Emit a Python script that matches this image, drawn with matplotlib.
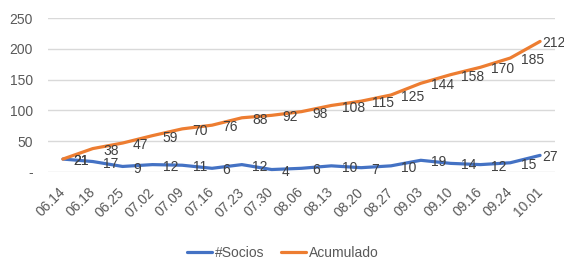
import matplotlib
matplotlib.use("Agg")
import matplotlib.pyplot as plt
import numpy as np

# Weekly dates, new members per week and running total
dates = ["06.14", "06.18", "06.25", "07.02", "07.09", "07.16", "07.23", "07.30",
         "08.06", "08.13", "08.20", "08.27", "09.03", "09.10", "09.16", "09.24", "10.01"]
socios = [21, 17, 9, 12, 11, 6, 12, 4, 6, 10, 7, 10, 19, 14, 12, 15, 27]
acumulado = [21, 38, 47, 59, 70, 76, 88, 92, 98, 108, 115, 125, 144, 158, 170, 185, 212]
yticks = [0, 50, 100, 150, 200, 250]
ytick_labels = ["-", "50", "100", "150", "200", "250"]

BLUE = "#4472C4"
ORANGE = "#ED7D31"
TEXT = "#595959"

plt.rcParams["font.family"] = ["Liberation Sans", "DejaVu Sans"]
plt.rcParams["font.size"] = 9.5

fig = plt.figure(figsize=(5.64, 2.6), dpi=100)
ax = fig.add_axes([48 / 564, 88 / 260, 507 / 564, 154 / 260])

xs = np.arange(len(dates))
ax.plot(xs, socios, color=BLUE, lw=2.3, solid_joinstyle="round",
        solid_capstyle="round", label="#Socios", zorder=3)
ax.plot(xs, acumulado, color=ORANGE, lw=2.3, solid_joinstyle="round",
        solid_capstyle="round", label="Acumulado", zorder=3)

last = len(dates) - 1
for series in (socios, acumulado):
    for x, v in zip(xs, series):
        # the last labels sit closer to their point so they stay inside the figure
        dx = 1.5 if x == last else 7.5
        ax.annotate(str(v), (x, v), xytext=(dx, -1.5), textcoords="offset points",
                    ha="left", va="center", color="#404040", fontsize=10, zorder=4)

ax.set_xlim(-0.5, len(dates) - 0.5)
ax.set_ylim(0, 250)
ax.set_yticks(yticks)
ax.set_yticklabels(ytick_labels)
ax.set_xticks(xs)
ax.set_xticklabels(dates, rotation=45, ha="right", va="center", rotation_mode="anchor",
                   fontsize=10)
ax.tick_params(axis="y", length=0, pad=11, colors=TEXT, labelsize=10)
ax.tick_params(axis="x", length=0, pad=13, colors=TEXT)
ax.grid(True, axis="y", color="#D9D9D9", lw=1)
ax.set_axisbelow(True)
for s in ax.spines.values():
    s.set_visible(False)

fig.legend(loc="center", bbox_to_anchor=(283 / 564, 1 - 253 / 260), ncol=2,
           frameon=False, handlelength=1.8, handletextpad=0.2, columnspacing=1.2,
           labelcolor=TEXT, fontsize=10)

fig.savefig("out.png", dpi=100)
